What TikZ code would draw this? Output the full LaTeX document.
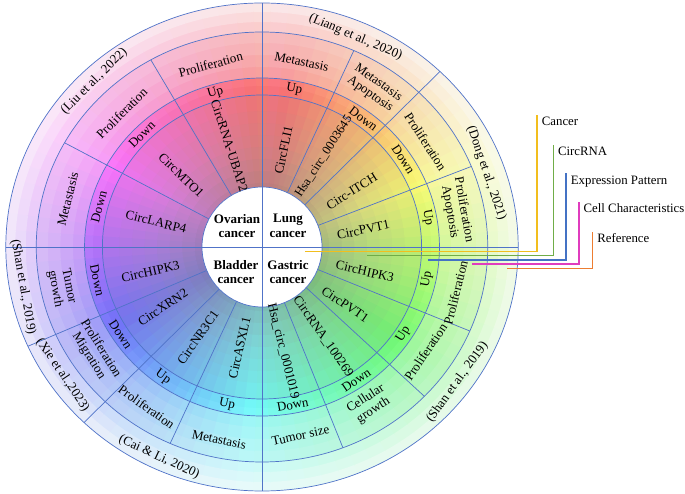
\documentclass[tikz,border=0pt]{standalone}
\usepackage{fontspec}
\setmainfont{Liberation Serif}
\definecolor{lineblue}{RGB}{80,115,200}
\definecolor{legyellow}{RGB}{242,190,30}
\definecolor{leggreen}{RGB}{112,173,71}
\definecolor{legblue}{RGB}{68,114,196}
\definecolor{legmagenta}{RGB}{224,60,190}
\definecolor{legorange}{RGB}{237,125,49}
\begin{document}
\begin{tikzpicture}[x=1pt,y=1pt,
  lbl/.style={font=\fontsize{13}{14}\selectfont, inner sep=0pt, align=center},
  ctr/.style={font=\fontsize{13}{14.5}\selectfont\bfseries, inner sep=0pt, align=center},
  leg/.style={font=\fontsize{12.8}{14}\selectfont, inner sep=0pt, anchor=base west},
  ringline/.style={draw=lineblue, line width=0.7pt},
  legline/.style={line width=1.2pt}]
\useasboundingbox (-262,-247) rectangle (423,247);
% ---------- colour wheel ----------
\begin{scope}[xscale=1.05]
\clip (0,0) circle[radius=244];
\foreach \a in {0,4,...,356}{
  \pgfmathsetmacro{\p}{mod(\a+272,360)}
  \pgfmathsetmacro{\h}{mod(362-1.03*\p+720,360)}
  \foreach \ri/\ro/\s/\b in {52/64/0.34/0.74, 64/76/0.36/0.77, 76/88/0.38/0.80, 88/100/0.41/0.83, 100/112/0.44/0.86, 112/124/0.46/0.88, 124/136/0.48/0.90, 136/152/0.50/0.92, 152/161/0.54/0.97, 161/169/0.52/0.98, 169/180/0.36/0.97, 180/192/0.32/0.97, 192/204/0.28/0.97, 204/215/0.25/0.97, 215/225/0.18/0.98, 225/235/0.13/0.98, 235/248/0.08/0.98}{
    \definecolor{wc}{Hsb}{\h,\s,\b}
    \fill[wc] (\a:\ri) arc[start angle=\a, end angle={\a+4.6}, radius=\ri] -- ({\a+4.6}:{\ro+1}) arc[start angle={\a+4.6}, end angle=\a, radius={\ro+1}] -- cycle;
  }
}
\end{scope}
% ---------- rings and dividers ----------
\begin{scope}[xscale=1.05]
\foreach \r in {152,169,215,244}{\draw[ringline] (0,0) circle[radius=\r];}
\foreach \t/\r in {119.5/215, 151/215, 66/215, 46/244, 22/215, -23/215, -44/215, -69/215, 204/244, 226/244, 246/215}{
  \draw[ringline] (\t:57) -- (\t:\r);}
\end{scope}
\draw[ringline, fill=white] (0,0) circle[radius=60];
\begin{scope}[xscale=1.05]
\draw[ringline] (180:244) -- (0:244);
\draw[ringline] (90:244) -- (270:244);
% circRNA names
\node[lbl, rotate=-72] (n1) at (107:106) {CircRNA-UBAP2};
\node[lbl, rotate=-44] (n2) at (137:105) {CircMTO1};
\node[lbl, rotate=-14] (n3) at (166:104) {CircLARP4};
\node[lbl, rotate=78] (n4) at (78:99) {CircFLI1};
\node[lbl, rotate=57, font=\fontsize{12.5}{14}\selectfont] (n5) at (57:108) {Hsa\_circ\_0003645};
\node[lbl, rotate=32] (n6) at (33:102) {Circ-ITCH};
\node[lbl, rotate=12] (n7) at (10:98) {CircPVT1};
\node[lbl, rotate=-13] (n8) at (-14:101) {CircHIPK3};
\node[lbl, rotate=-34] (n9) at (-36:98) {CircPVT1};
\node[lbl, rotate=-55] (n10) at (-57:107) {CircRNA\_100269};
\node[lbl, rotate=-76] (n11) at (-79:106) {Hsa\_circ\_0001019};
\node[lbl, rotate=13] (n12) at (193:109) {CircHIPK3};
\node[lbl, rotate=33] (n13) at (212.5:112) {CircXRN2};
\node[lbl, rotate=55] (n14) at (236:109) {CircNR3C1};
\node[lbl, rotate=77] (n15) at (258:103) {CircASXL1};
% expression
\node[lbl, rotate=16] (e1) at (106:160.5) {Up};
\node[lbl, rotate=45] (e2) at (135.5:160.5) {Down};
\node[lbl, rotate=75] (e3) at (165.5:160.5) {Down};
\node[lbl, rotate=-11] (e4) at (79:160.5) {Up};
\node[lbl, rotate=-37] (e5) at (53:160.5) {Down};
\node[lbl, rotate=-57] (e6) at (33:160.5) {Down};
\node[lbl, rotate=-80] (e7) at (10.5:160.5) {Up};
\node[lbl, rotate=79] (e8) at (-11.5:160.5) {Up};
\node[lbl, rotate=58] (e9) at (-33:160.5) {Up};
\node[lbl, rotate=34] (e10) at (-56:160.5) {Down};
\node[lbl, rotate=10.5] (e11) at (-79.5:160.5) {Down};
\node[lbl, rotate=-78] (e12) at (192:160.5) {Down};
\node[lbl, rotate=-57] (e13) at (213:160.5) {Down};
\node[lbl, rotate=-36] (e14) at (234:160.5) {Up};
\node[lbl, rotate=-12] (e15) at (258:160.5) {Up};
% cell characteristics
\node[lbl, rotate=15] (c1) at (105:189) {Proliferation};
\node[lbl, rotate=45] (c2) at (135:189) {Proliferation};
\node[lbl, rotate=76] (c3) at (165.5:191) {Metastasis};
\node[lbl, rotate=-12] (c4) at (78.5:189) {Metastasis};
\node[lbl, rotate=-35] (c5) at (56:191) {Metastasis\\Apoptosis};
\node[lbl, rotate=-57] (c6) at (34:188) {Proliferation};
\node[lbl, rotate=-80] (c7) at (11:189) {Proliferation\\Apoptosis};
\node[lbl, rotate=76] (c8) at (-14:190) {Proliferation};
\node[lbl, rotate=56] (c9) at (-34:188) {Proliferation};
\node[lbl, rotate=33] (c10) at (-57:188) {Cellular\\growth};
\node[lbl, rotate=12] (c11) at (-79:192) {Tumor size};
\node[lbl, rotate=-79] (c12) at (192:195) {Tumor\\growth};
\node[lbl, rotate=-58] (c13) at (213.5:191) {Proliferation\\Migration};
\node[lbl, rotate=-35.5] (c14) at (235.5:194) {Proliferation};
\node[lbl, rotate=-12] (c15) at (258:197) {Metastasis};
% references
\node[lbl, rotate=45] (r1) at (134:230) {(Liu et al., 2022)};
\node[lbl, rotate=-23] (r2) at (67:228) {(Liang et al., 2020)};
\node[lbl, rotate=-71] (r3) at (19:226) {(Dong et al., 2021)};
\node[lbl, rotate=54] (r4) at (-36:230) {(Shan et al., 2019)};
\node[lbl, rotate=-80] (r5) at (190:231) {(Shan et al., 2019)};
\node[lbl, rotate=-56] (r6) at (214:229) {(Xie et al.,2023)};
\node[lbl, rotate=-25] (r7) at (245:232) {(Cai \& Li, 2020)};
\end{scope}
% centre labels
\node[ctr] (ov) at (-25,21) {Ovarian\\cancer};
\node[ctr] (lu) at (26,21) {Lung\\cancer};
\node[ctr] (bl) at (-26,-25) {Bladder\\cancer};
\node[ctr] (ga) at (26,-25) {Gastric\\cancer};
% legend
\coordinate (ys) at (43,-4.5);   \coordinate (yt) at (275,132);
\coordinate (gs) at (105,-8.7);  \coordinate (gt) at (291.3,102);
\coordinate (bs) at (166,-13);   \coordinate (bt) at (304,73.7);
\coordinate (ms) at (210,-17);   \coordinate (mt) at (317,45.3);
\coordinate (os) at (245,-21.3); \coordinate (ot) at (330.7,15.3);
\node[leg] (l1) at ([xshift=4.7pt,yshift=-11pt]yt) {Cancer};
\node[leg] (l2) at ([xshift=4.5pt,yshift=-11pt]gt) {CircRNA};
\node[leg] (l3) at ([xshift=4.7pt,yshift=-11pt]bt) {Expression Pattern};
\node[leg] (l4) at ([xshift=4.5pt,yshift=-11pt]mt) {Cell Characteristics};
\node[leg] (l5) at ([xshift=4.5pt,yshift=-11pt]ot) {Reference};
\draw[legline, legyellow] (ys) -| (yt);
\draw[legline, leggreen] (gs) -| (gt);
\draw[legline, legblue] (bs) -| (bt);
\draw[legline, legmagenta] (ms) -| (mt);
\draw[legline, legorange] (os) -| (ot);
\end{tikzpicture}
\end{document}
